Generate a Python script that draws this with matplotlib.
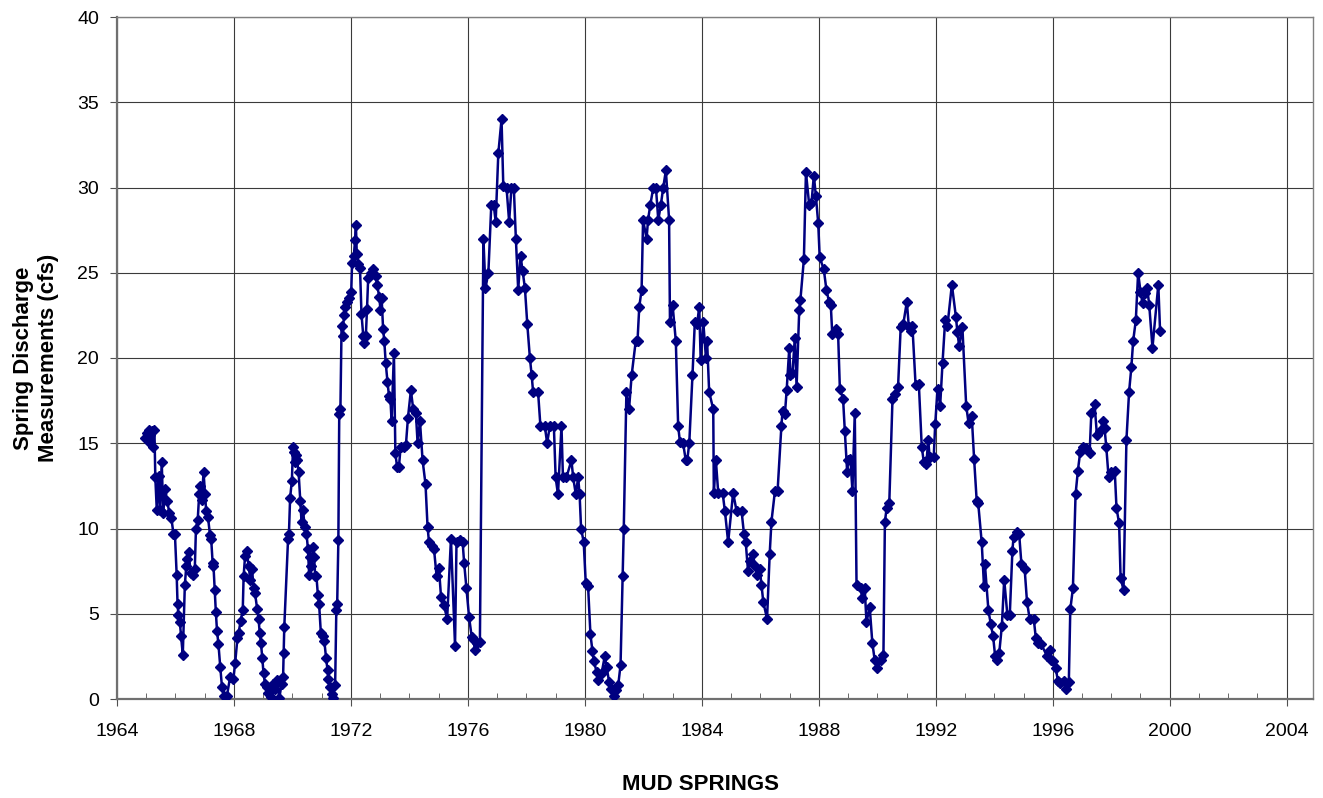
import matplotlib
matplotlib.use("Agg")
import matplotlib.pyplot as plt
from matplotlib.ticker import MultipleLocator

plt.rcParams['font.family'] = ['Liberation Sans', 'DejaVu Sans']

# Mud Springs discharge (decimal year, cfs)
dates_1965_1970 = [
    1964.97, 1965.03, 1965.08, 1965.13, 1965.18, 1965.23, 1965.28, 1965.31, 1965.36, 1965.42,
    1965.47, 1965.53, 1965.58, 1965.65, 1965.72, 1965.79, 1965.86, 1965.93, 1965.98, 1966.04,
    1966.07, 1966.10, 1966.15, 1966.19, 1966.25, 1966.32, 1966.37, 1966.41, 1966.45, 1966.52,
    1966.60, 1966.66, 1966.70, 1966.76, 1966.81, 1966.85, 1966.90, 1966.96, 1967.01, 1967.05,
    1967.11, 1967.18, 1967.22, 1967.27, 1967.30, 1967.34, 1967.38, 1967.42, 1967.47, 1967.53,
    1967.59, 1967.65, 1967.76, 1967.87, 1967.98, 1968.04, 1968.12, 1968.16, 1968.23, 1968.30,
    1968.33, 1968.38, 1968.44, 1968.50, 1968.56, 1968.62, 1968.67, 1968.72, 1968.79, 1968.84,
    1968.88, 1968.92, 1968.97, 1969.01, 1969.06, 1969.12, 1969.17, 1969.25, 1969.34, 1969.40,
    1969.48, 1969.55, 1969.63, 1969.68, 1969.70, 1969.72, 1969.85, 1969.88, 1969.92, 1969.98,
]
cfs_1965_1970 = [
    15.3, 15.6, 15.8, 15.0, 15.7, 14.8, 15.8, 13.0, 11.1, 13.1,
    11.1, 13.9, 10.9, 12.3, 11.6, 10.9, 10.6, 9.7, 9.7, 7.3,
    5.6, 4.9, 4.5, 3.7, 2.6, 6.7, 7.8, 8.2, 8.6, 7.4,
    7.3, 7.6, 10.0, 10.5, 12.0, 12.5, 11.7, 13.3, 12.0, 11.0,
    10.7, 9.6, 9.4, 8.0, 7.8, 6.4, 5.1, 4.0, 3.2, 1.9,
    0.7, 0.2, 0.2, 1.3, 1.2, 2.1, 3.6, 3.9, 4.6, 5.2,
    7.2, 8.4, 8.7, 7.8, 7.0, 7.6, 6.5, 6.2, 5.3, 4.7,
    3.9, 3.3, 2.4, 1.5, 0.9, 0.7, 0.35, 0.1, 0.9, 0.6,
    1.1, 0.05, 0.9, 1.3, 2.7, 4.2, 9.4, 9.7, 11.8, 12.8,
]

dates_1970_1976 = [
    1970.02, 1970.05, 1970.08, 1970.12, 1970.16, 1970.21, 1970.27, 1970.31, 1970.36, 1970.42,
    1970.48, 1970.53, 1970.57, 1970.61, 1970.65, 1970.70, 1970.74, 1970.78, 1970.82, 1970.87,
    1970.91, 1970.97, 1971.03, 1971.09, 1971.15, 1971.20, 1971.23, 1971.28, 1971.34, 1971.39,
    1971.46, 1971.50, 1971.53, 1971.57, 1971.60, 1971.64, 1971.68, 1971.72, 1971.76, 1971.80,
    1971.87, 1971.94, 1972.01, 1972.04, 1972.10, 1972.14, 1972.17, 1972.20, 1972.25, 1972.31,
    1972.36, 1972.42, 1972.44, 1972.51, 1972.55, 1972.59, 1972.67, 1972.76, 1972.85, 1972.89,
    1972.97, 1973.01, 1973.05, 1973.10, 1973.14, 1973.19, 1973.25, 1973.30, 1973.35, 1973.39,
    1973.47, 1973.52, 1973.58, 1973.64, 1973.70, 1973.80, 1973.88, 1973.95, 1974.05, 1974.13,
    1974.22, 1974.28, 1974.36, 1974.45, 1974.55, 1974.62, 1974.67, 1974.76, 1974.84, 1974.93,
    1975.01, 1975.08, 1975.18, 1975.29, 1975.42, 1975.56, 1975.61, 1975.73, 1975.82, 1975.87,
    1975.95, 1976.04, 1976.13, 1976.18, 1976.24, 1976.32, 1976.41,
]
cfs_1970_1976 = [
    14.8, 14.5, 13.9, 14.3, 14.0, 13.3, 11.6, 10.4, 11.1, 10.1,
    9.7, 8.8, 7.3, 8.3, 7.8, 8.9, 8.3, 7.2, 7.2, 6.1,
    5.6, 3.9, 3.7, 3.4, 2.4, 1.7, 1.2, 0.7, 0.3, 0.05,
    0.8, 5.2, 5.6, 9.3, 16.7, 17.0, 21.9, 21.3, 22.5, 23.0,
    23.3, 23.5, 23.9, 25.6, 26.0, 26.9, 27.8, 26.1, 25.5, 25.3,
    22.6, 21.3, 20.9, 21.3, 22.9, 24.7, 25.0, 25.2, 24.8, 24.3,
    23.6, 22.8, 23.5, 21.7, 21.0, 19.7, 18.6, 17.8, 17.6, 16.3,
    20.3, 14.4, 13.6, 13.6, 14.8, 14.8, 14.9, 16.5, 18.1, 17.0,
    16.8, 15.0, 16.3, 14.0, 12.6, 10.1, 9.2, 9.0, 8.8, 7.2,
    7.7, 6.0, 5.5, 4.7, 9.4, 3.1, 9.2, 9.3, 9.2, 8.0,
    6.5, 4.8, 3.65, 3.5, 2.9, 3.3, 3.35,
]

dates_1976_1983 = [
    1976.53, 1976.60, 1976.70, 1976.80, 1976.88, 1976.95, 1977.04, 1977.15, 1977.21, 1977.32,
    1977.41, 1977.49, 1977.57, 1977.64, 1977.72, 1977.80, 1977.87, 1977.95, 1978.03, 1978.12,
    1978.18, 1978.23, 1978.40, 1978.48, 1978.63, 1978.71, 1978.80, 1978.94, 1979.00, 1979.08,
    1979.20, 1979.25, 1979.37, 1979.54, 1979.60, 1979.69, 1979.77, 1979.82, 1979.87, 1979.96,
    1980.03, 1980.11, 1980.19, 1980.26, 1980.31, 1980.40, 1980.46, 1980.57, 1980.68, 1980.74,
    1980.83, 1980.91, 1980.99, 1981.06, 1981.14, 1981.22, 1981.29, 1981.33, 1981.42, 1981.51,
    1981.60, 1981.74, 1981.80, 1981.86, 1981.94, 1981.99, 1982.11, 1982.16, 1982.24, 1982.34,
    1982.43, 1982.51, 1982.60, 1982.68, 1982.77, 1982.88, 1982.91,
]
cfs_1976_1983 = [
    27.0, 24.1, 25.0, 29.0, 29.0, 28.0, 32.0, 34.0, 30.1, 30.0,
    28.0, 30.0, 30.0, 27.0, 24.0, 26.0, 25.1, 24.1, 22.0, 20.0,
    19.0, 18.0, 18.0, 16.0, 16.0, 15.0, 16.0, 16.0, 13.0, 12.0,
    16.0, 13.0, 13.0, 14.0, 13.0, 12.0, 13.0, 12.0, 10.0, 9.2,
    6.8, 6.6, 3.8, 2.8, 2.2, 1.6, 1.1, 1.5, 2.5, 1.9,
    1.0, 0.6, 0.2, 0.5, 0.8, 2.0, 7.2, 10.0, 18.0, 17.0,
    19.0, 21.0, 21.0, 23.0, 24.0, 28.1, 27.0, 28.1, 29.0, 30.0,
    30.0, 28.1, 29.0, 30.0, 31.0, 28.1, 22.1,
]

dates_1983_1990 = [
    1983.00, 1983.11, 1983.19, 1983.25, 1983.36, 1983.45, 1983.50, 1983.57, 1983.68, 1983.76,
    1983.84, 1983.91, 1983.96, 1984.05, 1984.14, 1984.18, 1984.25, 1984.39, 1984.41, 1984.48,
    1984.56, 1984.71, 1984.79, 1984.90, 1985.07, 1985.19, 1985.36, 1985.44, 1985.50, 1985.58,
    1985.64, 1985.75, 1985.81, 1985.89, 1985.98, 1986.04, 1986.10, 1986.23, 1986.32, 1986.38,
    1986.50, 1986.59, 1986.72, 1986.76, 1986.84, 1986.90, 1986.99, 1987.03, 1987.10, 1987.18,
    1987.24, 1987.33, 1987.37, 1987.49, 1987.56, 1987.67, 1987.75, 1987.83, 1987.90, 1987.98,
    1988.03, 1988.17, 1988.26, 1988.35, 1988.41, 1988.46, 1988.58, 1988.66, 1988.72, 1988.83,
    1988.89, 1988.97, 1989.00, 1989.08, 1989.15, 1989.23, 1989.29, 1989.43, 1989.49, 1989.57,
    1989.63, 1989.74, 1989.83, 1989.91, 1989.99,
]
cfs_1983_1990 = [
    23.1, 21.0, 16.0, 15.1, 15.0, 14.0, 14.0, 15.0, 19.0, 22.1,
    22.0, 23.0, 19.9, 22.1, 20.0, 21.0, 18.0, 17.0, 12.1, 14.0,
    12.1, 12.1, 11.0, 9.2, 12.1, 11.0, 11.0, 9.7, 9.2, 7.5,
    8.1, 8.5, 7.8, 7.3, 7.6, 6.7, 5.7, 4.7, 8.5, 10.4,
    12.2, 12.2, 16.0, 16.9, 16.7, 18.1, 20.6, 19.0, 19.1, 21.2,
    18.3, 22.8, 23.4, 25.8, 30.9, 29.0, 29.1, 30.7, 29.5, 27.9,
    25.9, 25.2, 24.0, 23.3, 23.1, 21.4, 21.7, 21.4, 18.2, 17.6,
    15.7, 13.3, 14.0, 14.1, 12.2, 16.8, 6.7, 6.5, 5.9, 6.5,
    4.5, 5.4, 3.3, 2.3, 1.8,
]

dates_1990_2000 = [
    1990.12, 1990.21, 1990.26, 1990.32, 1990.41, 1990.52, 1990.61, 1990.71, 1990.80, 1990.89,
    1991.01, 1991.08, 1991.14, 1991.20, 1991.31, 1991.42, 1991.52, 1991.59, 1991.68, 1991.74,
    1991.79, 1991.93, 1991.98, 1992.06, 1992.15, 1992.23, 1992.32, 1992.40, 1992.55, 1992.69,
    1992.74, 1992.80, 1992.91, 1993.04, 1993.12, 1993.23, 1993.31, 1993.40, 1993.45, 1993.57,
    1993.65, 1993.68, 1993.80, 1993.88, 1993.96, 1994.03, 1994.10, 1994.17, 1994.26, 1994.34,
    1994.45, 1994.53, 1994.62, 1994.66, 1994.78, 1994.85, 1994.93, 1995.04, 1995.12, 1995.21,
    1995.35, 1995.42, 1995.50, 1995.61, 1995.81, 1995.90, 1995.95, 1996.01, 1996.10, 1996.18,
    1996.26, 1996.37, 1996.46, 1996.55, 1996.60, 1996.69, 1996.78, 1996.86, 1996.94, 1997.03,
    1997.14, 1997.26, 1997.32, 1997.43, 1997.51, 1997.62, 1997.71, 1997.77, 1997.83, 1997.91,
    1998.00, 1998.12, 1998.18, 1998.27, 1998.32, 1998.42, 1998.52, 1998.61, 1998.69, 1998.75,
    1998.84, 1998.92, 1999.00, 1999.07, 1999.15, 1999.23, 1999.30, 1999.41, 1999.61, 1999.67,
]
cfs_1990_2000 = [
    2.3, 2.6, 10.4, 11.2, 11.5, 17.6, 17.9, 18.3, 21.8, 22.0,
    23.3, 21.8, 21.6, 21.9, 18.4, 18.5, 14.8, 13.9, 13.8, 15.2,
    14.2, 14.2, 16.1, 18.2, 17.2, 19.7, 22.2, 21.9, 24.3, 22.4,
    21.5, 20.7, 21.8, 17.2, 16.2, 16.6, 14.1, 11.6, 11.5, 9.2,
    6.6, 7.9, 5.2, 4.4, 3.7, 2.5, 2.3, 2.7, 4.3, 7.0,
    4.9, 4.9, 8.7, 9.5, 9.8, 9.7, 7.9, 7.6, 5.7, 4.7,
    4.7, 3.6, 3.3, 3.2, 2.5, 2.9, 2.3, 2.2, 1.8, 1.05,
    0.95, 1.05, 0.56, 1.0, 5.25, 6.5, 12.0, 13.4, 14.5, 14.8,
    14.7, 14.4, 16.8, 17.3, 15.5, 15.7, 16.3, 15.9, 14.8, 13.0,
    13.3, 13.4, 11.2, 10.3, 7.1, 6.4, 15.2, 18.0, 19.5, 21.0,
    22.2, 25.0, 23.9, 23.2, 23.8, 24.1, 23.1, 20.6, 24.3, 21.6,
]

dates = dates_1965_1970 + dates_1970_1976 + dates_1976_1983 + dates_1983_1990 + dates_1990_2000
cfs = cfs_1965_1970 + cfs_1970_1976 + cfs_1976_1983 + cfs_1983_1990 + cfs_1990_2000

x_ticks = list(range(1964, 2005, 4))
y_ticks = list(range(0, 41, 5))

fig = plt.figure(figsize=(13.23, 7.98), dpi=100)
ax = fig.add_axes([117 / 1323, 1 - 699 / 798, (1313 - 117) / 1323, (699 - 17) / 798])

ax.plot(dates, cfs, color='#000080', lw=1.8, marker='D', ms=5.5,
        markerfacecolor='#000080', markeredgecolor='#000080', zorder=3)

ax.set_xlim(1964, 2004.9)
ax.set_ylim(0, 40)
ax.set_xticks(x_ticks)
ax.set_yticks(y_ticks)
ax.xaxis.set_minor_locator(MultipleLocator(1))
ax.grid(True, which='major', color='#3a3a3a', lw=0.8)
ax.set_axisbelow(True)

for side in ['top', 'right']:
    ax.spines[side].set_color('#808080')
    ax.spines[side].set_linewidth(1.0)
for side in ['left', 'bottom']:
    ax.spines[side].set_color('#707070')
    ax.spines[side].set_linewidth(1.6)

ax.tick_params(axis='both', which='major', labelsize=14, direction='out', length=5,
               color='#505050')
ax.tick_params(axis='x', which='major', pad=12)
ax.tick_params(axis='y', which='major', pad=8)
ax.tick_params(axis='x', which='minor', direction='in', length=4, color='#505050')

# axis titles placed as figure text, like the original layout
fig.text(36 / 1323, 1 - 358 / 798, 'Spring Discharge\nMeasurements (cfs)', rotation=90,
         ha='center', va='center', fontsize=16, fontweight='bold', linespacing=1.25)
fig.text(701 / 1323, 1 - 785 / 798, 'MUD SPRINGS', ha='center', va='center',
         fontsize=16, fontweight='bold')

fig.savefig('out.png', dpi=100)
